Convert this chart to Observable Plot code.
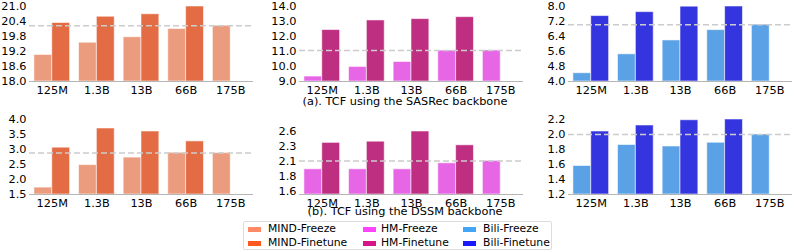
<!DOCTYPE html>
<html>
<head>
<meta charset="utf-8">
<script src="https://cdn.jsdelivr.net/npm/d3@7"></script>
<script src="https://cdn.jsdelivr.net/npm/@observablehq/plot@0.6"></script>
<style>
  html, body { margin: 0; padding: 0; background: #fff; }
  #root { position: relative; width: 793px; height: 252px; overflow: hidden; font-family: "DejaVu Sans", sans-serif; }
  #root svg { position: absolute; overflow: visible; }
  .cap { position: absolute; font: 11.3px "DejaVu Sans", sans-serif; color: #000; white-space: nowrap; transform: translate(-50%, -50%); }
  #legend { position: absolute; left: 243px; top: 221px; width: 309px; height: 29px; border: 1px solid #dcdcdc; border-radius: 2px; box-sizing: border-box; }
  .li { position: absolute; font: 10.8px "DejaVu Sans", sans-serif; color: #000; white-space: nowrap; line-height: 12px; }
  .sw { position: absolute; width: 13px; height: 5px; }
</style>
</head>
<body>
<div id="root"></div>
<script>
// ---- data ----
const sizes = ["125M", "1.3B", "13B", "66B", "175B"];
const finetuneSizes = ["125M", "1.3B", "13B", "66B"];

const mindSasrecFreeze   = [19.06, 19.55, 19.77, 20.10, 20.23];
const mindSasrecFinetune = [20.34, 20.59, 20.69, 21.00];
const hmSasrecFreeze     = [9.33, 9.97, 10.30, 11.06, 11.07];
const hmSasrecFinetune   = [12.43, 13.07, 13.16, 13.29];
const biliSasrecFreeze   = [4.44, 5.45, 6.19, 6.74, 7.03];
const biliSasrecFinetune = [7.49, 7.70, 7.99, 8.00];

const mindDssmFreeze     = [1.73, 2.48, 2.73, 2.89, 2.88];
const mindDssmFinetune   = [3.06, 3.70, 3.60, 3.27];
const hmDssmFreeze       = [1.97, 1.97, 1.97, 2.07, 2.11];
const hmDssmFinetune     = [2.41, 2.43, 2.60, 2.37];
const biliDssmFreeze     = [1.58, 1.86, 1.84, 1.89, 2.00];
const biliDssmFinetune   = [2.04, 2.12, 2.19, 2.20];

// y tick values and labels
const ticksMindSas = [18.0, 18.6, 19.2, 19.8, 20.4, 21.0];
const ticksHmSas   = [9, 10, 11, 12, 13, 14];
const ticksBiliSas = [4.0, 4.8, 5.6, 6.4, 7.2, 8.0];
const ticksMindDssm = [1.5, 2.0, 2.5, 3.0, 3.5, 4.0];
const ticksHmDssm   = [1.6, 1.85, 2.1, 2.35, 2.6];
const labelsHmDssm  = ["1.6", "1.8", "2.1", "2.3", "2.6"];
const ticksBiliDssm = [1.2, 1.4, 1.6, 1.8, 2.0, 2.2];

const captions = ["(a). TCF using the SASRec backbone", "(b). TCF using the DSSM backbone"];
const legendLabels = [["MIND-Freeze", "MIND-Finetune"], ["HM-Freeze", "HM-Finetune"], ["Bili-Freeze", "Bili-Finetune"]];

// ---- styles ----
const barColors = {
  mind: ["#eb9c7e", "#e36c44"],
  hm:   ["#e766e6", "#bf2f81"],
  bili: ["#5aa2e5", "#3535e0"]
};
const legendColors = {
  mind: ["#ff8a65", "#ff5722"],
  hm:   ["#ff44ff", "#d4168a"],
  bili: ["#42a5f5", "#1a1aff"]
};

const panels = [
  {left: -1,  top: 0,     domain: [18, 21],   ticks: ticksMindSas,  freeze: mindSasrecFreeze, finetune: mindSasrecFinetune, c: barColors.mind},
  {left: 269, top: 0,     domain: [9, 14],    ticks: ticksHmSas,    freeze: hmSasrecFreeze,   finetune: hmSasrecFinetune,   c: barColors.hm},
  {left: 538, top: 0,     domain: [4, 8],     ticks: ticksBiliSas,  freeze: biliSasrecFreeze, finetune: biliSasrecFinetune, c: barColors.bili},
  {left: -1,  top: 113.3, domain: [1.5, 4],   ticks: ticksMindDssm, freeze: mindDssmFreeze,   finetune: mindDssmFinetune,   c: barColors.mind},
  {left: 269, top: 113.3, domain: [1.55, 2.8], ticks: ticksHmDssm,  labels: labelsHmDssm, freeze: hmDssmFreeze, finetune: hmDssmFinetune, c: barColors.hm},
  {left: 538, top: 113.3, domain: [1.2, 2.2], ticks: ticksBiliDssm, freeze: biliDssmFreeze,   finetune: biliDssmFinetune,   c: barColors.bili}
];

const root = document.getElementById("root");
const mL = 30, mR = 2, mT = 6, mB = 20, innerW = 224, innerH = 75;
const W = mL + innerW + mR, H = mT + innerH + mB;
const pIn = 0.2, pOut = 0.11;
const step = innerW / (sizes.length - pIn + 2 * pOut);
const bw = step * (1 - pIn);

for (const p of panels) {
  const freezeData = sizes.map((s, i) => ({size: s, value: p.freeze[i]}));
  const finetuneData = finetuneSizes.map((s, i) => ({size: s, value: p.finetune[i]}));
  const ymin = p.domain[0];
  const ref = p.freeze[p.freeze.length - 1];
  const fmt = p.labels ? (d => p.labels[p.ticks.indexOf(d)]) : (d => d.toFixed(1));
  const svg = Plot.plot({
    width: W, height: H,
    marginLeft: mL, marginRight: mR, marginTop: mT, marginBottom: mB,
    style: {fontFamily: "DejaVu Sans, sans-serif", fontSize: "11.3px", color: "#000", background: "transparent", overflow: "visible"},
    x: {type: "band", domain: sizes, paddingInner: pIn, paddingOuter: pOut, round: false, label: null},
    y: {domain: p.domain, label: null},
    marks: [
      Plot.barY(freezeData, {x: "size", y1: ymin, y2: "value", fill: p.c[0], insetRight: bw / 2, stroke: "#ffffff", strokeOpacity: 0.55, strokeWidth: 1}),
      Plot.barY(finetuneData, {x: "size", y1: ymin, y2: "value", fill: p.c[1], insetLeft: bw / 2, stroke: "#ffffff", strokeOpacity: 0.55, strokeWidth: 1}),
      Plot.ruleY([ref], {stroke: "#cccccc", strokeWidth: 1.5, strokeDasharray: "6,3"}),
      Plot.ruleY([ymin], {stroke: "#b5b5b5", strokeWidth: 1}),
      Plot.axisY({ticks: p.ticks, tickFormat: fmt, tickSize: 0, tickPadding: 3, line: true, stroke: "#d8d8d8", fill: "#000", fontSize: 11.3, label: null}),
      Plot.axisX({tickSize: 0, tickPadding: 4, fill: "#000", fontSize: 11.3, label: null})
    ]
  });
  svg.style.left = p.left + "px";
  svg.style.top = p.top + "px";
  root.appendChild(svg);
}

// captions
const capPos = [[405, 101], [405, 211]];
captions.forEach((t, i) => {
  const d = document.createElement("div");
  d.className = "cap";
  d.textContent = t;
  d.style.left = capPos[i][0] + "px";
  d.style.top = capPos[i][1] + "px";
  root.appendChild(d);
});

// legend
const leg = document.createElement("div");
leg.id = "legend";
root.appendChild(leg);
const colKeys = ["mind", "hm", "bili"];
const colSw = [4, 119, 219];
const colTx = [24, 137, 239];
const rowY = [7, 21];
legendLabels.forEach((pair, ci) => {
  pair.forEach((lab, ri) => {
    const sw = document.createElement("div");
    sw.className = "sw";
    sw.style.background = legendColors[colKeys[ci]][ri];
    sw.style.left = colSw[ci] + "px";
    sw.style.top = (rowY[ri] - 2.5) + "px";
    leg.appendChild(sw);
    const tx = document.createElement("div");
    tx.className = "li";
    tx.textContent = lab;
    tx.style.left = colTx[ci] + "px";
    tx.style.top = (rowY[ri] - 6) + "px";
    leg.appendChild(tx);
  });
});
</script>
</body>
</html>
